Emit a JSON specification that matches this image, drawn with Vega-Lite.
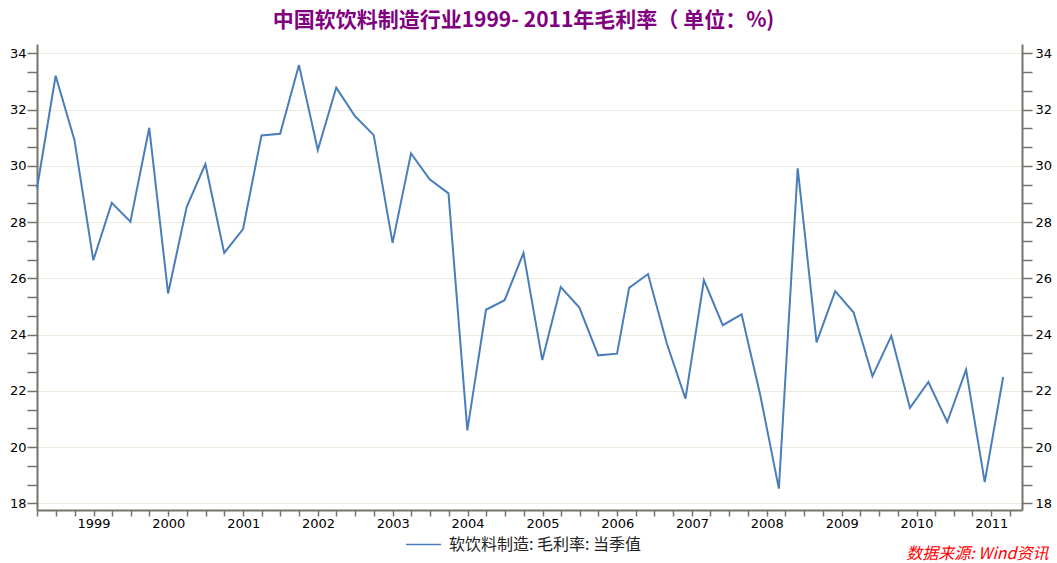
{
  "$schema": "https://vega.github.io/schema/vega-lite/v6.json",
  "autosize": {"type": "none"},
  "width": 985,
  "height": 466,
  "padding": {"left": 37, "top": 44, "right": 35, "bottom": 53},
  "background": "white",
  "config": {"view": {"stroke": null}, "font": "DejaVu Sans"},
  "title": {
    "text": "中国软饮料制造行业1999- 2011年毛利率（ 单位：%)",
    "color": "#800080",
    "fontSize": 21,
    "fontWeight": "bold",
    "font": "Noto Sans CJK SC",
    "anchor": "middle",
    "offset": 13,
    "dx": -6
  },
  "data": {
    "values": [
      {"date": "1998-03-31", "value": 29.20, "series": "软饮料制造: 毛利率: 当季值"},
      {"date": "1998-06-30", "value": 33.20, "series": "软饮料制造: 毛利率: 当季值"},
      {"date": "1998-09-30", "value": 30.91, "series": "软饮料制造: 毛利率: 当季值"},
      {"date": "1998-12-31", "value": 26.64, "series": "软饮料制造: 毛利率: 当季值"},
      {"date": "1999-03-31", "value": 28.68, "series": "软饮料制造: 毛利率: 当季值"},
      {"date": "1999-06-30", "value": 28.01, "series": "软饮料制造: 毛利率: 当季值"},
      {"date": "1999-09-30", "value": 31.35, "series": "软饮料制造: 毛利率: 当季值"},
      {"date": "1999-12-31", "value": 25.46, "series": "软饮料制造: 毛利率: 当季值"},
      {"date": "2000-03-31", "value": 28.54, "series": "软饮料制造: 毛利率: 当季值"},
      {"date": "2000-06-30", "value": 30.06, "series": "软饮料制造: 毛利率: 当季值"},
      {"date": "2000-09-30", "value": 26.90, "series": "软饮料制造: 毛利率: 当季值"},
      {"date": "2000-12-31", "value": 27.75, "series": "软饮料制造: 毛利率: 当季值"},
      {"date": "2001-03-31", "value": 31.08, "series": "软饮料制造: 毛利率: 当季值"},
      {"date": "2001-06-30", "value": 31.14, "series": "软饮料制造: 毛利率: 当季值"},
      {"date": "2001-09-30", "value": 33.58, "series": "软饮料制造: 毛利率: 当季值"},
      {"date": "2001-12-31", "value": 30.56, "series": "软饮料制造: 毛利率: 当季值"},
      {"date": "2002-03-31", "value": 32.78, "series": "软饮料制造: 毛利率: 当季值"},
      {"date": "2002-06-30", "value": 31.77, "series": "软饮料制造: 毛利率: 当季值"},
      {"date": "2002-09-30", "value": 31.09, "series": "软饮料制造: 毛利率: 当季值"},
      {"date": "2002-12-31", "value": 27.26, "series": "软饮料制造: 毛利率: 当季值"},
      {"date": "2003-03-31", "value": 30.44, "series": "软饮料制造: 毛利率: 当季值"},
      {"date": "2003-06-30", "value": 29.52, "series": "软饮料制造: 毛利率: 当季值"},
      {"date": "2003-09-30", "value": 29.02, "series": "软饮料制造: 毛利率: 当季值"},
      {"date": "2003-12-31", "value": 20.59, "series": "软饮料制造: 毛利率: 当季值"},
      {"date": "2004-03-31", "value": 24.88, "series": "软饮料制造: 毛利率: 当季值"},
      {"date": "2004-06-30", "value": 25.22, "series": "软饮料制造: 毛利率: 当季值"},
      {"date": "2004-09-30", "value": 26.90, "series": "软饮料制造: 毛利率: 当季值"},
      {"date": "2004-12-31", "value": 23.09, "series": "软饮料制造: 毛利率: 当季值"},
      {"date": "2005-03-31", "value": 25.69, "series": "软饮料制造: 毛利率: 当季值"},
      {"date": "2005-06-30", "value": 24.96, "series": "软饮料制造: 毛利率: 当季值"},
      {"date": "2005-09-30", "value": 23.26, "series": "软饮料制造: 毛利率: 当季值"},
      {"date": "2005-12-31", "value": 23.32, "series": "软饮料制造: 毛利率: 当季值"},
      {"date": "2006-02-28", "value": 25.66, "series": "软饮料制造: 毛利率: 当季值"},
      {"date": "2006-05-31", "value": 26.15, "series": "软饮料制造: 毛利率: 当季值"},
      {"date": "2006-08-31", "value": 23.68, "series": "软饮料制造: 毛利率: 当季值"},
      {"date": "2006-11-30", "value": 21.72, "series": "软饮料制造: 毛利率: 当季值"},
      {"date": "2007-02-28", "value": 25.93, "series": "软饮料制造: 毛利率: 当季值"},
      {"date": "2007-05-31", "value": 24.33, "series": "软饮料制造: 毛利率: 当季值"},
      {"date": "2007-08-31", "value": 24.72, "series": "软饮料制造: 毛利率: 当季值"},
      {"date": "2007-11-30", "value": 21.85, "series": "软饮料制造: 毛利率: 当季值"},
      {"date": "2008-02-29", "value": 18.52, "series": "软饮料制造: 毛利率: 当季值"},
      {"date": "2008-05-31", "value": 29.91, "series": "软饮料制造: 毛利率: 当季值"},
      {"date": "2008-08-31", "value": 23.72, "series": "软饮料制造: 毛利率: 当季值"},
      {"date": "2008-11-30", "value": 25.54, "series": "软饮料制造: 毛利率: 当季值"},
      {"date": "2009-02-28", "value": 24.78, "series": "软饮料制造: 毛利率: 当季值"},
      {"date": "2009-05-31", "value": 22.52, "series": "软饮料制造: 毛利率: 当季值"},
      {"date": "2009-08-31", "value": 23.95, "series": "软饮料制造: 毛利率: 当季值"},
      {"date": "2009-11-30", "value": 21.39, "series": "软饮料制造: 毛利率: 当季值"},
      {"date": "2010-02-28", "value": 22.31, "series": "软饮料制造: 毛利率: 当季值"},
      {"date": "2010-05-31", "value": 20.89, "series": "软饮料制造: 毛利率: 当季值"},
      {"date": "2010-08-31", "value": 22.75, "series": "软饮料制造: 毛利率: 当季值"},
      {"date": "2010-11-30", "value": 18.75, "series": "软饮料制造: 毛利率: 当季值"},
      {"date": "2011-02-28", "value": 22.49, "series": "软饮料制造: 毛利率: 当季值"}
    ]
  },
  "encoding": {
    "x": {
      "field": "date",
      "type": "temporal",
      "scale": {"type": "utc", "domain": ["1998-03-31", "2011-05-31"], "nice": false},
      "axis": {
        "orient": "bottom",
        "tickCount": {"interval": "month", "step": 3},
        "labelExpr": "utcmonth(datum.value) == 0 ? utcFormat(datum.value, '%Y') : ''",
        "labelFontSize": 13,
        "labelFont": "DejaVu Sans",
        "labelColor": "#000000",
        "labelOverlap": false,
        "labelFlush": false,
        "labelPadding": 1,
        "grid": false,
        "domain": true,
        "domainColor": "#76736a",
        "domainWidth": 2,
        "ticks": true,
        "tickColor": "#76736a",
        "tickWidth": 1.5,
        "tickSize": 6,
        "title": "数据来源: Wind资讯",
        "titleColor": "#ff0000",
        "titleFontStyle": "italic",
        "titleFont": "Noto Sans CJK SC",
        "titleFontSize": 16,
        "titleFontWeight": "normal",
        "titleAlign": "right",
        "titleBaseline": "middle",
        "titleX": 1011,
        "titleY": 43
      }
    }
  },
  "layer": [
    {
      "mark": {"type": "line", "strokeWidth": 2},
      "encoding": {
        "y": {
          "field": "value",
          "type": "quantitative",
          "scale": {"domain": [17.76, 34.33], "nice": false, "zero": false},
          "axis": {
            "orient": "left",
            "values": [18, 18.6667, 19.3333, 20, 20.6667, 21.3333, 22, 22.6667, 23.3333, 24, 24.6667, 25.3333, 26, 26.6667, 27.3333, 28, 28.6667, 29.3333, 30, 30.6667, 31.3333, 32, 32.6667, 33.3333, 34],
            "labelExpr": "abs(datum.value - 2*round(datum.value/2)) < 0.01 ? format(datum.value, 'd') : ''",
            "labelFontSize": 13,
            "labelFont": "DejaVu Sans",
            "labelColor": "#000000",
            "labelOverlap": false,
            "labelFlush": false,
            "labelPadding": 1,
            "grid": true,
            "gridColor": "#ecebdf",
            "gridWidth": 1,
            "gridOpacity": {"condition": {"test": "abs(datum.value - 2*round(datum.value/2)) < 0.01", "value": 1}, "value": 0},
            "domainColor": "#76736a",
            "domainWidth": 2,
            "tickColor": "#76736a",
            "tickWidth": 1.5,
            "tickSize": 10,
            "encode": {
              "ticks": {"update": {"x2": [{"test": "abs(datum.value - 2*round(datum.value/2)) < 0.01", "value": -10}, {"value": 5}]}}
            },
            "title": null
          }
        },
        "color": {
          "field": "series",
          "type": "nominal",
          "scale": {"range": ["#4a7ebb"]},
          "legend": {
            "orient": "none",
            "legendX": 368,
            "legendY": 482,
            "title": null,
            "symbolType": "stroke",
            "symbolSize": 1225,
            "symbolStrokeWidth": 1.5,
            "labelFontSize": 16,
            "labelFont": "Noto Sans CJK SC",
            "labelColor": "#222222",
            "labelOffset": 7,
            "labelLimit": 500,
            "direction": "horizontal"
          }
        }
      }
    },
    {
      "mark": {"type": "line", "opacity": 0},
      "encoding": {
        "y": {
          "field": "value",
          "type": "quantitative",
          "scale": {"domain": [17.76, 34.33], "nice": false, "zero": false},
          "axis": {
            "orient": "right",
            "values": [18, 18.6667, 19.3333, 20, 20.6667, 21.3333, 22, 22.6667, 23.3333, 24, 24.6667, 25.3333, 26, 26.6667, 27.3333, 28, 28.6667, 29.3333, 30, 30.6667, 31.3333, 32, 32.6667, 33.3333, 34],
            "labelExpr": "abs(datum.value - 2*round(datum.value/2)) < 0.01 ? format(datum.value, 'd') : ''",
            "labelFontSize": 13,
            "labelFont": "DejaVu Sans",
            "labelColor": "#000000",
            "labelOverlap": false,
            "labelFlush": false,
            "labelPadding": 3,
            "grid": false,
            "domainColor": "#76736a",
            "domainWidth": 2,
            "tickColor": "#76736a",
            "tickWidth": 1.5,
            "tickSize": 10,
            "encode": {
              "ticks": {"update": {"x2": [{"test": "abs(datum.value - 2*round(datum.value/2)) < 0.01", "value": 10}, {"value": -5}]}}
            },
            "title": null
          }
        }
      }
    }
  ],
  "resolve": {"axis": {"y": "independent"}}
}
